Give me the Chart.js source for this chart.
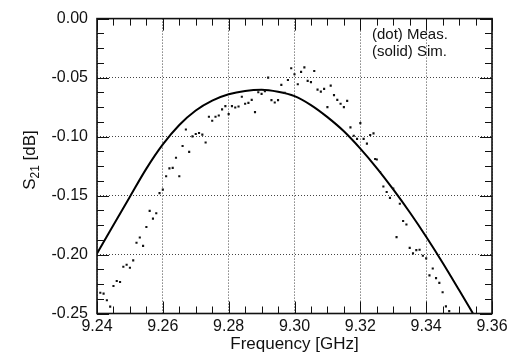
<!DOCTYPE html>
<html>
<head>
<meta charset="utf-8">
<script src="https://cdn.jsdelivr.net/npm/chart.js@4/dist/chart.umd.min.js"></script>
<style>
  html, body { margin: 0; padding: 0; background: #fff; }
  #wrap { width: 512px; height: 355px; }
</style>
</head>
<body>
<div id="wrap"><canvas id="c" width="512" height="355"></canvas></div>
<script>
const measFreq = [
  9.241, 9.242, 9.243, 9.244, 9.245, 9.246, 9.247, 9.248, 9.249, 9.250,
  9.251, 9.252, 9.253, 9.254, 9.255, 9.256, 9.257, 9.258, 9.259, 9.260,
  9.261, 9.262, 9.263, 9.264, 9.265, 9.266, 9.267, 9.268, 9.269, 9.270,
  9.271, 9.272, 9.273, 9.274, 9.275, 9.276, 9.277, 9.278, 9.279, 9.280,
  9.281, 9.282, 9.283, 9.284, 9.285, 9.286, 9.287, 9.288, 9.289, 9.290,
  9.291, 9.292, 9.293, 9.294, 9.295, 9.296, 9.297, 9.298, 9.299, 9.300,
  9.301, 9.302, 9.303, 9.304, 9.305, 9.306, 9.307, 9.308, 9.309, 9.310,
  9.311, 9.312, 9.313, 9.314, 9.315, 9.316, 9.317, 9.318, 9.319, 9.320,
  9.321, 9.322, 9.323, 9.324, 9.3245, 9.325, 9.326, 9.327, 9.328, 9.329,
  9.330, 9.331, 9.332, 9.333, 9.334, 9.335, 9.336, 9.337, 9.338, 9.339,
  9.340, 9.341, 9.342, 9.343, 9.344, 9.345, 9.346, 9.347,
]
const measS21 = [
  -0.2324, -0.2332, -0.2388, -0.2442, -0.2267, -0.2225, -0.2233, -0.2104, -0.2087, -0.2112,
  -0.2050, -0.1900, -0.1856, -0.1927, -0.1767, -0.1630, -0.1696, -0.1650, -0.1480, -0.1450,
  -0.1336, -0.1270, -0.1265, -0.1180, -0.1336, -0.1080, -0.0940, -0.1130, -0.0998, -0.0978,
  -0.0970, -0.0984, -0.1050, -0.0832, -0.0866, -0.0832, -0.0821, -0.0770, -0.0742, -0.0810,
  -0.0742, -0.0754, -0.0745, -0.0663, -0.0722, -0.0714, -0.0689, -0.0793, -0.0624, -0.0638,
  -0.0615, -0.0500, -0.0691, -0.0711, -0.0691, -0.0562, -0.0630, -0.0520, -0.0421, -0.0472,
  -0.0556, -0.0452, -0.0413, -0.0528, -0.0539, -0.0444, -0.0602, -0.0619, -0.0596, -0.0750,
  -0.0568, -0.0649, -0.0689, -0.0722, -0.0750, -0.0697, -0.0922, -0.0993, -0.1020, -0.0886,
  -0.1020, -0.1060, -0.0987, -0.0973, -0.1190, -0.1195, -0.1300, -0.1423, -0.1470, -0.1520,
  -0.1440, -0.1853, -0.1570, -0.1716, -0.1746, -0.1944, -0.1990, -0.1963, -0.1960, -0.2010,
  -0.2033, -0.2177, -0.2118, -0.2200, -0.2240, -0.2320, -0.2440, -0.2480,
]

// simulated S21 (solid curve)
const simFreq = [
  9.240, 9.245, 9.250, 9.255, 9.260, 9.265, 9.270, 9.275, 9.280, 9.285,
  9.290, 9.295, 9.300, 9.305, 9.310, 9.315, 9.320, 9.325, 9.330, 9.335,
  9.340, 9.345, 9.350, 9.355,
]
const simS21 = [
  -0.1991, -0.1750, -0.1510, -0.1272, -0.1067, -0.0902, -0.0779, -0.0695, -0.0642, -0.0613,
  -0.0603, -0.0620, -0.0657, -0.0733, -0.0835, -0.0955, -0.1102, -0.1267, -0.1448, -0.1642,
  -0.1849, -0.2069, -0.2301, -0.2537,
]

const xTicks = [9.24, 9.26, 9.28, 9.30, 9.32, 9.34, 9.36]
const yTicks = [-0.25, -0.20, -0.15, -0.10, -0.05, 0.00]
const xMinorStep = 0.005
const yMinorStep = 0.0125
const notes = ['(dot) Meas.', '(solid) Sim.']

const FONT = "'Liberation Sans', Arial, Helvetica, sans-serif"
const INK = '#111'

// frame, inward ticks, the note text and the S21 title with its subscript
const framePlugin = {
  id: 'frame',
  afterDraw(chart) {
    const { ctx, chartArea: a, scales: { x, y } } = chart
    ctx.save()
    ctx.strokeStyle = INK

    ctx.lineWidth = 1
    const tick = (px, len, vertical) => {
      ctx.beginPath()
      if (vertical) {
        ctx.moveTo(px, a.bottom); ctx.lineTo(px, a.bottom - len)
        ctx.moveTo(px, a.top);    ctx.lineTo(px, a.top + len)
      } else {
        ctx.moveTo(a.left, px);  ctx.lineTo(a.left + len, px)
        ctx.moveTo(a.right, px); ctx.lineTo(a.right - len, px)
      }
      ctx.stroke()
    }
    for (let i = 0; i <= Math.round((x.max - x.min) / xMinorStep); i++) {
      const v = x.min + i * xMinorStep
      tick(Math.round(x.getPixelForValue(v)) + 0.5, i % 4 === 0 ? 12 : 7, true)
    }
    for (let i = 0; i <= Math.round((y.max - y.min) / yMinorStep); i++) {
      const v = y.min + i * yMinorStep
      tick(Math.round(y.getPixelForValue(v)) + 0.5, i % 4 === 0 ? 12 : 7, false)
    }

    ctx.lineWidth = 1.6
    ctx.strokeRect(a.left, a.top, a.right - a.left, a.bottom - a.top)

    ctx.fillStyle = INK
    ctx.font = `15px ${FONT}`
    ctx.textBaseline = 'middle'
    ctx.textAlign = 'left'
    notes.forEach((t, i) => ctx.fillText(t, 372, 35 + i * 17))

    // y title: S with subscript 21, then [dB]
    ctx.translate(29, 160)
    ctx.rotate(-Math.PI / 2)
    ctx.font = `17px ${FONT}`
    const wS = ctx.measureText('S').width
    ctx.font = `12px ${FONT}`
    const w21 = ctx.measureText('21').width
    ctx.font = `17px ${FONT}`
    const wRest = ctx.measureText(' [dB]').width
    let cx = -(wS + w21 + wRest) / 2
    ctx.textBaseline = 'alphabetic'
    ctx.fillText('S', cx, 6); cx += wS
    ctx.font = `12px ${FONT}`
    ctx.fillText('21', cx, 10); cx += w21
    ctx.font = `17px ${FONT}`
    ctx.fillText(' [dB]', cx, 6)
    ctx.restore()
  },
}

new Chart(document.getElementById('c'), {
  type: 'scatter',
  data: {
    datasets: [
      {
        label: 'Meas.',
        data: measFreq.map((f, i) => ({ x: f, y: measS21[i] })),
        pointStyle: 'rect', pointRadius: 1.5, pointBorderWidth: 0,
        backgroundColor: '#111', borderColor: '#111',
      },
      {
        label: 'Sim.',
        data: simFreq.map((f, i) => ({ x: f, y: simS21[i] })),
        showLine: true, pointRadius: 0, borderWidth: 2,
        borderColor: '#000', cubicInterpolationMode: 'monotone',
      },
    ],
  },
  options: {
    responsive: false, animation: false, events: [],
    layout: { padding: { top: 17, right: 20, left: 0, bottom: 0 } },
    plugins: { legend: { display: false }, tooltip: { enabled: false } },
    scales: {
      x: {
        type: 'linear', min: 9.24, max: 9.36,
        afterBuildTicks: s => { s.ticks = xTicks.map(v => ({ value: v })) },
        afterFit: s => { s.height = 41.5 },
        ticks: { callback: v => v.toFixed(2), padding: 3, color: INK, font: { family: FONT, size: 16 }, maxRotation: 0 },
        grid: { color: '#444', lineWidth: 1, drawTicks: false },
        border: { display: false, dash: [1, 2] },
        title: { display: true, text: 'Frequency [GHz]', color: INK, font: { family: FONT, size: 17 }, padding: { top: 0, bottom: 0 } },
      },
      y: {
        type: 'linear', min: -0.25, max: 0,
        afterBuildTicks: s => { s.ticks = yTicks.map(v => ({ value: v })) },
        afterFit: s => { s.width = 97 },
        ticks: { callback: v => v.toFixed(2), padding: 9, color: INK, font: { family: FONT, size: 16 } },
        grid: { color: '#444', lineWidth: 1, drawTicks: false },
        border: { display: false, dash: [1, 2] },
      },
    },
  },
  plugins: [framePlugin],
})
</script>
</body>
</html>
